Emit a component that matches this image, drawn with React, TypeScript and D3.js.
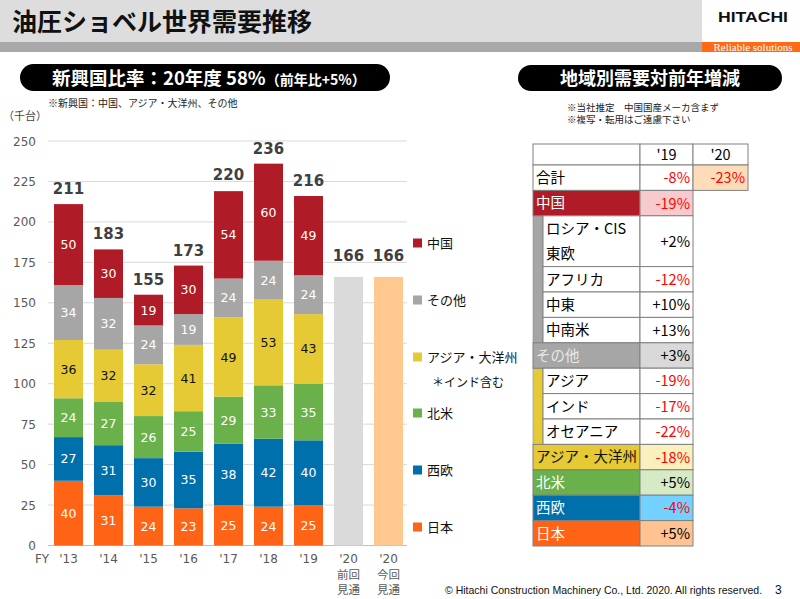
import React from "react";
import * as d3 from "d3";

// ---- chart data ----
const categories = ["'13", "'14", "'15", "'16", "'17", "'18", "'19", "'20 前回", "'20 今回"];
const xLabels = ["'13", "'14", "'15", "'16", "'17", "'18", "'19", "'20", "'20"];
const xSubLabels = [[], [], [], [], [], [], [], ["前回", "見通"], ["今回", "見通"]];
const japan = [40, 31, 24, 23, 25, 24, 25];
const westEurope = [27, 31, 30, 35, 38, 42, 40];
const northAmerica = [24, 27, 26, 25, 29, 33, 35];
const asiaOceania = [36, 32, 32, 41, 49, 53, 43];
const others = [34, 32, 24, 19, 24, 24, 24];
const china = [50, 30, 19, 30, 54, 60, 49];
const totals = [211, 183, 155, 173, 220, 236, 216];
const forecastValues = [166, 166];
const yTicks = [0, 25, 50, 75, 100, 125, 150, 175, 200, 225, 250];

const seriesKeys = ["日本", "西欧", "北米", "アジア・大洋州", "その他", "中国"];
const seriesData = [japan, westEurope, northAmerica, asiaOceania, others, china];
const legendOrder = ["中国", "その他", "アジア・大洋州", "北米", "西欧", "日本"];

// ---- table data ----
const tableRegions = ["合計", "中国", "ロシア・CIS\n東欧", "アフリカ", "中東", "中南米", "その他", "アジア", "インド", "オセアニア", "アジア・大洋州", "北米", "西欧", "日本"];
const table19 = ["-8%", "-19%", "+2%", "-12%", "+10%", "+13%", "+3%", "-19%", "-17%", "-22%", "-18%", "+5%", "-4%", "+5%"];
const table20 = ["-23%"];

// ---- styles ----
const colors: Record<string, string> = {
  日本: "#FF6316",
  西欧: "#0070AC",
  北米: "#6AB04B",
  "アジア・大洋州": "#E5C935",
  その他: "#A6A6A6",
  中国: "#AF1C27",
};
const labelColor: Record<string, string> = {
  日本: "#fff", 西欧: "#fff", 北米: "#fff", "アジア・大洋州": "#111", その他: "#fff", 中国: "#fff",
};
const forecastColors = ["#DADADA", "#FFC88F"];
const JP = "'Noto Sans CJK JP', 'Noto Sans', sans-serif";
const NUM = "'DejaVu Sans', Verdana, sans-serif";

export default function App() {
  const W = 800, H = 599;
  const x = d3.scaleBand<string>().domain(categories).range([48.5, 408.5]).paddingInner(0.275).paddingOuter(0.1375);
  const y = d3.scaleLinear().domain([0, 250]).range([545.5, 141]);

  const rows = japan.map((_, i) => {
    const r: any = { cat: categories[i] };
    seriesKeys.forEach((k, j) => (r[k] = seriesData[j][i]));
    return r;
  });
  const stacked = d3.stack<any>().keys(seriesKeys)(rows);

  // table layout
  const tx0 = 533, tx1 = 640, tx2 = 693, tx3 = 748, indent = 10;
  const headTop = 144, headH = 21, rowH = 25.4;
  const rowSpans = [1, 1, 2, 1, 1, 1, 1, 1, 1, 1, 1, 1, 1, 1];
  const tops: number[] = [];
  let acc = headTop + headH;
  rowSpans.forEach((s) => { tops.push(acc); acc += s * rowH; });
  const rowStyle: Record<string, { bg: string; fg: string; vbg: string; indent?: boolean }> = {
    合計: { bg: "#fff", fg: "#000", vbg: "#fff" },
    中国: { bg: "#AF1C27", fg: "#fff", vbg: "#F7CBCD" },
    "ロシア・CIS\n東欧": { bg: "#fff", fg: "#000", vbg: "#fff", indent: true },
    アフリカ: { bg: "#fff", fg: "#000", vbg: "#fff", indent: true },
    中東: { bg: "#fff", fg: "#000", vbg: "#fff", indent: true },
    中南米: { bg: "#fff", fg: "#000", vbg: "#fff", indent: true },
    その他: { bg: "#A6A6A6", fg: "#E8E8E8", vbg: "#D9D9D9" },
    アジア: { bg: "#fff", fg: "#000", vbg: "#fff", indent: true },
    インド: { bg: "#fff", fg: "#000", vbg: "#fff", indent: true },
    オセアニア: { bg: "#fff", fg: "#000", vbg: "#fff", indent: true },
    "アジア・大洋州": { bg: "#E5C935", fg: "#111", vbg: "#FAF0BE" },
    北米: { bg: "#6AB04B", fg: "#fff", vbg: "#D6EAC5" },
    西欧: { bg: "#0070AC", fg: "#fff", vbg: "#72D1FF" },
    日本: { bg: "#FF6316", fg: "#fff", vbg: "#FFC291" },
  };
  const border = "#808080";

  return (
    <svg width={W} height={H} style={{ position: "absolute", left: 0, top: 0, background: "#fff" }}>
      {/* header */}
      <rect x={0} y={0} width={702} height={42} fill="#DDDDDD" />
      <rect x={0} y={42} width={702} height={10} fill="#A8A8A8" />
      <rect x={702} y={42} width={98} height={10} fill="#FF6A13" />
      <text x={12} y={31} fontFamily={JP} fontWeight="bold" fontSize={25} fill="#111">油圧ショベル世界需要推移</text>
      <text x={753} y={21.5} textAnchor="middle" fontFamily="'Liberation Sans', Arial, sans-serif" fontWeight="bold" fontSize={14.5} textLength={70} lengthAdjust="spacingAndGlyphs" fill="#111">HITACHI</text>
      <text x={753} y={50.5} textAnchor="middle" fontFamily="'Liberation Serif', serif" fontSize={10.5} fill="#fff" textLength={79} lengthAdjust="spacingAndGlyphs">Reliable solutions</text>

      {/* left pill */}
      <rect x={20} y={64} width={370} height={27} rx={13.5} fill="#000" />
      <text x={52} y={84.5} fontFamily={JP} fontWeight="bold" fill="#fff">
        <tspan fontSize={18.5}>新興国比率：20年度 58%</tspan>
        <tspan fontSize={14}>（前年比+5%）</tspan>
      </text>
      <text x={48} y={107} fontFamily={JP} fontSize={10} fill="#222">※新興国：中国、アジア・大洋州、その他</text>
      <text x={3} y={120} fontFamily={JP} fontSize={11} fill="#444">（千台）</text>

      {/* right pill */}
      <rect x={518} y={65} width={264} height={26} rx={13} fill="#000" />
      <text x={650} y={84.5} textAnchor="middle" fontFamily={JP} fontWeight="bold" fontSize={18} fill="#fff">地域別需要対前年増減</text>
      <text x={567} y={110.5} fontFamily={JP} fontSize={9.5} fill="#222">※当社推定　中国国産メーカ含まず</text>
      <text x={567} y={123} fontFamily={JP} fontSize={9.5} fill="#222">※複写・転用はご遠慮下さい</text>

      {/* gridlines & y axis */}
      {yTicks.map((t) => (
        <g key={t}>
          <line x1={48} x2={407} y1={y(t)} y2={y(t)} stroke={t === 0 ? "#BFBFBF" : "#D9D9D9"} strokeWidth={1} />
          <text x={36} y={y(t) + 4.5} textAnchor="end" fontFamily={NUM} fontSize={12} fill="#595959">{t}</text>
        </g>
      ))}

      {/* stacked bars */}
      {stacked.map((s) => (
        <g key={s.key}>
          {s.map((d, i) => {
            const x0 = x(categories[i])!;
            const y0 = y(d[1]), y1 = y(d[0]);
            return (
              <g key={i}>
                <rect x={x0} y={y0} width={x.bandwidth()} height={y1 - y0} fill={colors[s.key]} />
                <text x={x0 + x.bandwidth() / 2} y={(y0 + y1) / 2 + 4.5} textAnchor="middle" fontFamily={NUM} fontSize={12.5} fill={labelColor[s.key]}>
                  {d[1] - d[0]}
                </text>
              </g>
            );
          })}
        </g>
      ))}
      {totals.map((t, i) => (
        <text key={i} x={x(categories[i])! + x.bandwidth() / 2} y={y(t) - 10} textAnchor="middle" fontFamily={NUM} fontWeight="bold" fontSize={15} fill="#404040">{t}</text>
      ))}
      {forecastValues.map((v, i) => {
        const c = categories[7 + i];
        return (
          <g key={c}>
            <rect x={x(c)!} y={y(v)} width={x.bandwidth()} height={y(0) - y(v)} fill={forecastColors[i]} />
            <text x={x(c)! + x.bandwidth() / 2} y={y(v) - 16} textAnchor="middle" fontFamily={NUM} fontWeight="bold" fontSize={15} fill="#404040">{v}</text>
          </g>
        );
      })}

      {/* x axis labels */}
      <text x={42} y={563} textAnchor="middle" fontFamily={NUM} fontSize={12} fill="#595959">FY</text>
      {xLabels.map((l, i) => (
        <g key={i}>
          <text x={x(categories[i])! + x.bandwidth() / 2} y={563} textAnchor="middle" fontFamily={NUM} fontSize={12} fill="#595959">{l}</text>
          {xSubLabels[i].map((s, j) => (
            <text key={j} x={x(categories[i])! + x.bandwidth() / 2} y={578.5 + j * 15} textAnchor="middle" fontFamily={JP} fontSize={11.5} fill="#595959">{s}</text>
          ))}
        </g>
      ))}

      {/* legend */}
      {legendOrder.map((k, i) => {
        const ly = [243, 300, 357, 413, 470, 527][i];
        return (
          <g key={k}>
            <rect x={413} y={ly - 4.5} width={9} height={9} fill={colors[k]} />
            <text x={427} y={ly + 4.5} fontFamily={JP} fontSize={13} fill="#111">{k}</text>
          </g>
        );
      })}
      <text x={432} y={387} fontFamily={JP} fontSize={12} fill="#111">＊インド含む</text>

      {/* table */}
      <g fontFamily={JP} fontSize={14.5}>
        <rect x={tx0} y={headTop} width={tx1 - tx0} height={headH} fill="#fff" stroke={border} />
        <rect x={tx1} y={headTop} width={tx2 - tx1} height={headH} fill="#fff" stroke={border} />
        <rect x={tx2} y={headTop} width={tx3 - tx2} height={headH} fill="#fff" stroke={border} />
        <text x={(tx1 + tx2) / 2} y={headTop + 16} textAnchor="middle" fill="#000">'19</text>
        <text x={(tx2 + tx3) / 2} y={headTop + 16} textAnchor="middle" fill="#000">'20</text>
        {/* indent strips */}
        <rect x={tx0} y={tops[2]} width={indent} height={tops[6] - tops[2]} fill="#A6A6A6" stroke={border} strokeWidth={0.5} />
        <rect x={tx0} y={tops[7]} width={indent} height={tops[10] - tops[7]} fill="#E5C935" stroke={border} strokeWidth={0.5} />
        {tableRegions.map((r, i) => {
          const st = rowStyle[r];
          const top = tops[i];
          const h = rowSpans[i] * rowH;
          const lx = st.indent ? tx0 + indent : tx0;
          const lines = r.split("\n");
          const v = table19[i];
          return (
            <g key={r}>
              <rect x={lx} y={top} width={tx1 - lx} height={h} fill={st.bg} stroke={border} />
              <rect x={tx1} y={top} width={tx2 - tx1} height={h} fill={st.vbg} stroke={border} />
              {lines.map((ln, j) => (
                <text key={j} x={lx + 3} y={top + 18 + j * 25.5} fill={st.fg}>{ln}</text>
              ))}
              <text x={tx2 - 3} y={top + h / 2 + 5.5} textAnchor="end" fill={v.startsWith("-") ? "#FF0000" : "#000"}>{v}</text>
              {i < table20.length && (
                <g>
                  <rect x={tx2} y={top} width={tx3 - tx2} height={h} fill="#FDDDB8" stroke={border} />
                  <text x={tx3 - 3} y={top + h / 2 + 5.5} textAnchor="end" fill={table20[i].startsWith("-") ? "#FF0000" : "#000"}>{table20[i]}</text>
                </g>
              )}
            </g>
          );
        })}
      </g>

      {/* footer */}
      <text x={445} y={594} fontFamily="'Liberation Sans', Arial, sans-serif" fontSize={10.5} fill="#111">© Hitachi Construction Machinery Co., Ltd. 2020. All rights reserved.</text>
      <text x={775} y={594} fontFamily="'Liberation Sans', Arial, sans-serif" fontSize={12} fill="#111">3</text>
    </svg>
  );
}
